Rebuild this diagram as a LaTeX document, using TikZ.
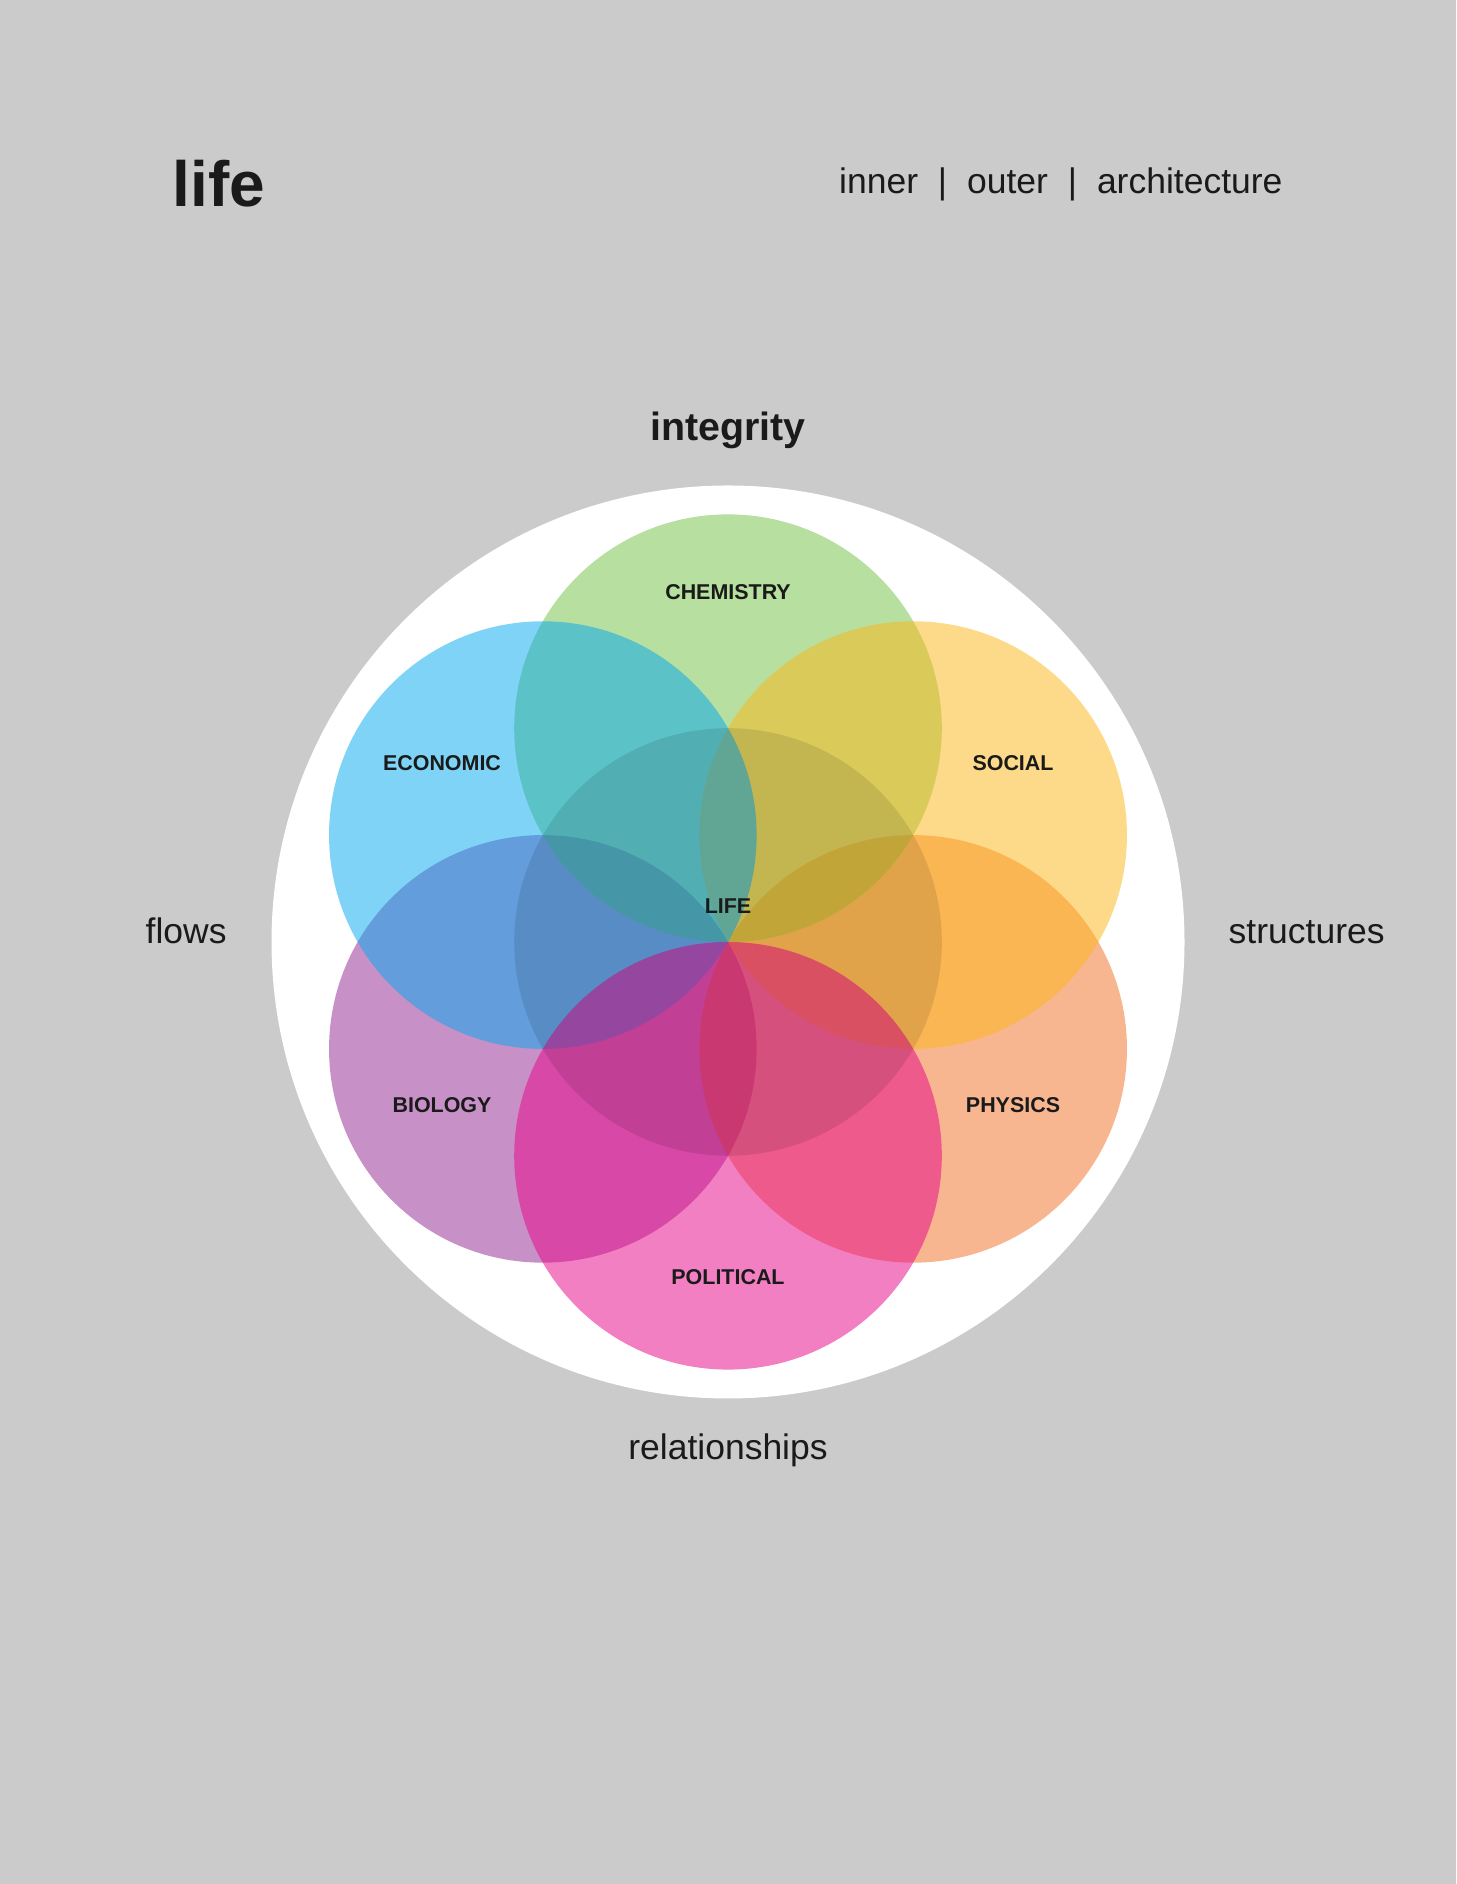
\documentclass[tikz,border=0pt]{standalone}
\usepackage{fontspec}
\setmainfont{Liberation Sans}
\usetikzlibrary{calc}
\definecolor{paper}{HTML}{CBCBCB}
\definecolor{ink}{HTML}{1A1A1A}
\definecolor{chemgreen}{HTML}{71C141}
\definecolor{econblue}{HTML}{01A9F1}
\definecolor{socyellow}{HTML}{FDB717}
\definecolor{physorange}{HTML}{F16F23}
\definecolor{polpink}{HTML}{E90089}
\definecolor{biopurple}{HTML}{912591}
\tikzset{
 petal/.style={fill opacity=.5},
 field/.style={inner sep=0,text=ink,font=\bfseries\fontsize{6.1}{7}\selectfont},
 axis/.style={inner sep=0,text=ink,anchor=base,font=\fontsize{10.1}{12}\selectfont}
}

\begin{document}
\begin{tikzpicture}[x=.1mm,y=.1mm]
 \fill[paper] (0,0) rectangle (1456,1884);
 \coordinate (mid) at (728,942);
 \fill[white] (mid) circle (456.5);
 % the six fields, then the darker core
 \fill[biopurple,petal] ($(mid)+(-150:213.8)$) circle (213.8);
 \fill[physorange,petal] ($(mid)+(-30:213.8)$) circle (213.8);
 \fill[chemgreen,petal] ($(mid)+(90:213.8)$) circle (213.8);
 \fill[socyellow,petal] ($(mid)+(30:213.8)$) circle (213.8);
 \fill[econblue,petal] ($(mid)+(150:213.8)$) circle (213.8);
 \fill[polpink,petal] ($(mid)+(-90:213.8)$) circle (213.8);
 \fill[black,fill opacity=.1] (mid) circle (213.8);
 \node[field] (chemistry) at (728,1292) {CHEMISTRY};
 \node[field] (economic) at (442,1121) {ECONOMIC};
 \node[field] (social) at (1013,1121) {SOCIAL};
 \node[field] (biology) at (442,779) {BIOLOGY};
 \node[field] (physics) at (1013,779) {PHYSICS};
 \node[field] (political) at (728,607) {POLITICAL};
 \node[field] (life) at (728,978) {LIFE};
 % headings and the four sides
 \node[inner sep=0,anchor=base west,text=ink,font=\bfseries\fontsize{18.2}{22}\selectfont] (title) at (172,1677) {life};
 \node[axis,anchor=base west] (tabs) at (838.5,1690) {inner\hspace{.56em}|\hspace{.56em}outer\hspace{.56em}|\hspace{.56em}architecture};
 \node[axis,font=\bfseries\fontsize{11.2}{13}\selectfont] (integrity) at (728,1443) {integrity};
 \node[axis,anchor=base west] (flows) at (145,940) {flows};
 \node[axis,anchor=base west] (structures) at (1228,940) {structures};
 \node[axis] (relationships) at (728,424) {relationships};
\end{tikzpicture}
\end{document}
